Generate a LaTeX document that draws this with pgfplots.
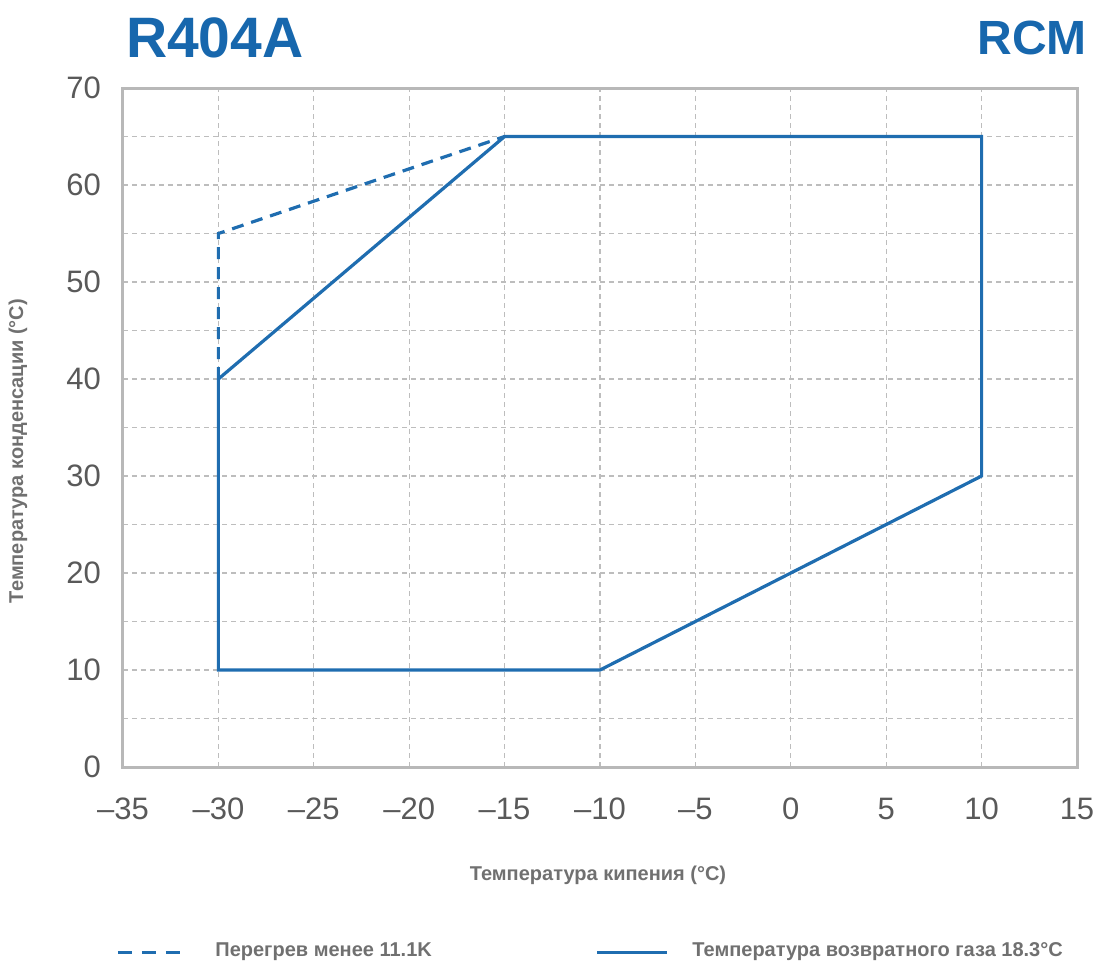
\documentclass[border=0pt]{standalone}
\usepackage{fontspec}
\setmainfont{Liberation Sans}
\usepackage{pgfplots}
\pgfplotsset{compat=1.18}
\definecolor{cblue}{HTML}{1F6DB0}
\definecolor{tblue}{HTML}{1767AD}
\definecolor{framegray}{HTML}{B8B8B8}
\definecolor{gridgray}{HTML}{BDBDBD}
\definecolor{ticktext}{HTML}{595959}
\definecolor{labeltext}{HTML}{707070}
\begin{document}
\begin{tikzpicture}
\path[use as bounding box] (-61.5pt,-99.5pt) rectangle (487.5pt,383.5pt);
\begin{axis}[
  at={(0,0)}, anchor=south west,
  scale only axis, width=477pt, height=339.5pt,
  xmin=-35, xmax=15, ymin=0, ymax=70,
  xtick={-35,-30,...,15},
  xticklabels={\textendash35,\textendash30,\textendash25,\textendash20,\textendash15,\textendash10,\textendash5,0,5,10,15},
  ytick={0,10,...,70},
  minor ytick={5,15,...,65},
  grid=both,
  major grid style={gridgray, line width=0.6pt, dash pattern=on 2.5pt off 2pt},
  minor grid style={gridgray, line width=0.6pt, dash pattern=on 2.5pt off 2pt},
  axis line style={framegray, line width=1.5pt},
  tick style={draw=none},
  minor tick style={draw=none},
  /pgf/number format/assume math mode=true,
  ticklabel style={font=\fontsize{15.5}{15.5}\selectfont, text=ticktext},
  xticklabel style={yshift=-12pt},
  yticklabel style={xshift=-7.5pt},
]
\addplot[cblue, line width=1.6pt, line join=miter] coordinates {
  (-30,40) (-30,10) (-10,10) (10,30) (10,65) (-15,65) (-30,40)
};
\addplot[cblue, line width=1.6pt, dash pattern=on 6pt off 4pt] coordinates {
  (-30,40) (-30,55) (-15,65)
};
\end{axis}
\node[text=tblue, font=\fontsize{28.5}{28.5}\selectfont\bfseries, anchor=west] at (-2pt,364.5pt) {R404A};
\node[text=tblue, font=\fontsize{24}{24}\selectfont\bfseries, anchor=east] at (485.5pt,364.5pt) {RCM};
\node[text=labeltext, font=\fontsize{10}{10}\selectfont\bfseries] at (237.5pt,-54pt) {Температура кипения (°C)};
\node[text=labeltext, font=\fontsize{10}{10}\selectfont\bfseries, rotate=90] at (-52.5pt,158pt) {Температура конденсации (°C)};
\draw[cblue, line width=1.5pt, dash pattern=on 7pt off 5pt] (-2.5pt,-92.5pt) -- (33pt,-92.5pt);
\node[text=labeltext, font=\fontsize{10}{10}\selectfont\bfseries, anchor=west, inner sep=0pt] at (46pt,-92.5pt) {Перегрев менее 11.1K};
\draw[cblue, line width=1.5pt] (237pt,-92.5pt) -- (272pt,-92.5pt);
\node[text=labeltext, font=\fontsize{10}{10}\selectfont\bfseries, anchor=west, inner sep=0pt] at (284.5pt,-92.5pt) {Температура возвратного газа 18.3°C};
\end{tikzpicture}
\end{document}
